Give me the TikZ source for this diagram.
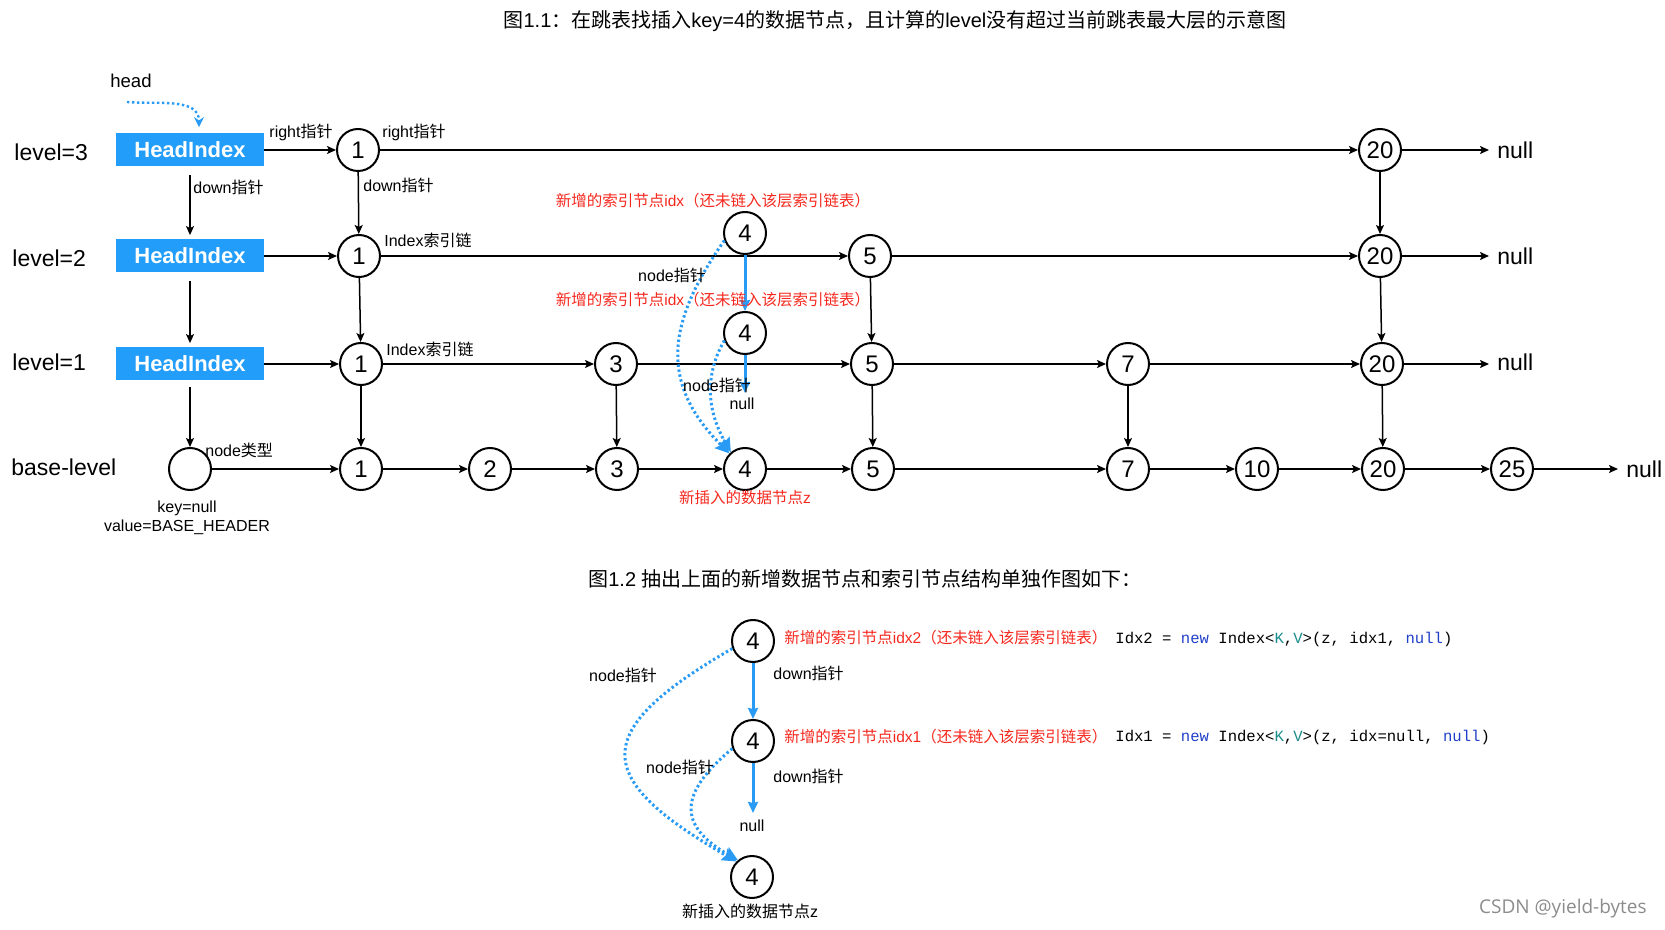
\documentclass[tikz,border=0pt]{standalone}
\usepackage{fontspec}
\setmainfont{Liberation Sans}
\setmonofont{Liberation Mono}
\newfontfamily\cjk{Noto Sans CJK SC}
\newfontfamily\wmfont{Open Sans}
\usetikzlibrary{arrows.meta}
\definecolor{hiblue}{HTML}{239DFA}
\definecolor{ptrblue}{HTML}{2A9BF5}
\definecolor{notered}{HTML}{F5281E}
\definecolor{kwblue}{HTML}{1F3FC8}
\definecolor{tvteal}{HTML}{1C8C8C}
\newcommand{\zh}[1]{{\cjk #1}}
\newcommand{\kw}[1]{\textcolor{kwblue}{#1}}
\newcommand{\tv}[1]{\textcolor{tvteal}{#1}}
\begin{document}
\begin{tikzpicture}[x=0.5pt, y=-0.5pt,
		idx/.style={circle, draw, line width=1pt, minimum size=21pt, inner sep=0pt, font=\fontsize{12}{14}\selectfont},
		hbox/.style={fill=hiblue, minimum width=74pt, minimum height=16.5pt, inner sep=0pt, text=white, font=\bfseries\fontsize{11}{13}\selectfont},
		lvl/.style={inner sep=1pt, font=\fontsize{11.5}{13}\selectfont},
		nul/.style={anchor=west, inner sep=4pt, font=\fontsize{11.5}{13}\selectfont},
		lbl/.style={inner sep=1pt, font=\fontsize{8}{10}\selectfont},
		redlbl/.style={inner sep=1pt, text=notered, font=\fontsize{7.75}{9}\selectfont},
		code/.style={inner sep=1pt, font=\ttfamily\fontsize{7.8}{9}\selectfont},
		ttl/.style={inner sep=1pt, font=\fontsize{10}{12}\selectfont},
		link/.style={-{Stealth[length=4.5pt, width=4pt, inset=1pt]}, line width=0.75pt},
		downb/.style={-{Stealth[length=5.5pt, width=5pt, inset=0.5pt]}, ptrblue, line width=1.5pt},
		ptr/.style={-{Stealth[length=7pt, width=6.5pt, inset=1pt]}, ptrblue, line width=1.5pt, dash pattern=on 1.2pt off 1.3pt}]
	\useasboundingbox (0,0) rectangle (1665,930);
	\pgfmathsetmacro{\rowc}{150}
	\pgfmathsetmacro{\rowb}{256}
	\pgfmathsetmacro{\rowa}{364}
	\pgfmathsetmacro{\rowz}{469}

	\node[ttl] (title1) at (895,21) {\zh{图}1.1\zh{：在跳表找插入}key=4\zh{的数据节点，且计算的}level\zh{没有超过当前跳表最大层的示意图}};

	% level names and head boxes
	\node[lvl, anchor=west] (lv3) at (12,\rowc+2) {level=3};
	\node[lvl, anchor=west] (lv2) at (10,\rowb+2) {level=2};
	\node[lvl, anchor=west] (lv1) at (10,\rowa-2) {level=1};
	\node[lvl, anchor=west] (lv0) at (9,\rowz-2) {base-level};
	\node[hbox] (h3) at (190,\rowc) {HeadIndex};
	\node[hbox] (h2) at (190,\rowb) {HeadIndex};
	\node[hbox] (h1) at (190,\rowa) {HeadIndex};
	\node[lbl, font=\fontsize{9.3}{11}\selectfont] (head) at (131,81) {head};
	\coordinate (hs) at (127,102);
	\draw[ptr, line width=1.2pt, -{Stealth[length=5pt, width=5pt]}] (hs) to[out=-5, in=90] ([xshift=4.5pt, yshift=3pt]h3.north);

	% level 3
	\node[idx] (t1) at (358,\rowc) {1};
	\node[idx] (t20) at (1380,\rowc) {20};
	\node[nul] (t0) at (1489,\rowc) {null};
	% level 2
	\node[idx] (m1) at (359,\rowb) {1};
	\node[idx] (m5) at (870,\rowb) {5};
	\node[idx] (m20) at (1380,\rowb) {20};
	\node[nul] (m0) at (1489,\rowb) {null};
	% level 1
	\node[idx] (l1) at (361,\rowa) {1};
	\node[idx] (l3) at (616,\rowa) {3};
	\node[idx] (l5) at (872,\rowa) {5};
	\node[idx] (l7) at (1128,\rowa) {7};
	\node[idx] (l20) at (1382,\rowa) {20};
	\node[nul] (l0) at (1489,\rowa-2) {null};
	% base level
	\node[idx] (b0) at (190,\rowz) {};
	\node[idx] (b1) at (361,\rowz) {1};
	\node[idx] (b2) at (490,\rowz) {2};
	\node[idx] (b3) at (617,\rowz) {3};
	\node[idx] (b4) at (745,\rowz) {4};
	\node[idx] (b5) at (873,\rowz) {5};
	\node[idx] (b7) at (1128,\rowz) {7};
	\node[idx] (b10) at (1257,\rowz) {10};
	\node[idx] (b20) at (1383,\rowz) {20};
	\node[idx] (b25) at (1512,\rowz) {25};
	\node[nul] (bn) at (1618,\rowz) {null};
	% new index nodes
	\node[idx] (w2) at (745,233) {4};
	\node[idx] (w1) at (745,333) {4};

	% right links
	\draw[link] (h3) -- (t1);
	\draw[link] (t1) -- (t20);
	\draw[link] (t20) -- (t0);
	\draw[link] (h2) -- (m1);
	\draw[link] (m1) -- (m5);
	\draw[link] (m5) -- (m20);
	\draw[link] (m20) -- (m0);
	\draw[link] (h1) -- (l1);
	\draw[link] (l1) -- (l3);
	\draw[link] (l3) -- (l5);
	\draw[link] (l5) -- (l7);
	\draw[link] (l7) -- (l20);
	\draw[link] (l20) -- (l0.west |- l20);
	\draw[link] (b0) -- (b1);
	\draw[link] (b1) -- (b2);
	\draw[link] (b2) -- (b3);
	\draw[link] (b3) -- (b4);
	\draw[link] (b4) -- (b5);
	\draw[link] (b5) -- (b7);
	\draw[link] (b7) -- (b10);
	\draw[link] (b10) -- (b20);
	\draw[link] (b20) -- (b25);
	\draw[link] (b25) -- (bn);
	% down links
	\draw[link, shorten <=4pt, shorten >=2pt] (h3) -- (h2);
	\draw[link, shorten <=4pt, shorten >=2pt] (h2) -- (h1);
	\draw[link, shorten <=3pt] (h1) -- (b0);
	\draw[link] (t1) -- (m1);
	\draw[link] (m1) -- (l1);
	\draw[link] (l1) -- (b1);
	\draw[link] (l3) -- (b3);
	\draw[link] (m5) -- (l5);
	\draw[link] (l5) -- (b5);
	\draw[link] (l7) -- (b7);
	\draw[link] (t20) -- (m20);
	\draw[link] (m20) -- (l20);
	\draw[link] (l20) -- (b20);

	% labels
	\node[lbl] (rp1) at (301,132) {right\zh{指针}};
	\node[lbl] (rp2) at (414,132) {right\zh{指针}};
	\node[lbl, anchor=west] (dp1) at (191,187) {down\zh{指针}};
	\node[lbl, anchor=west] (dp2) at (361,185) {down\zh{指针}};
	\node[lbl, anchor=west] (ic2) at (382,240) {Index\zh{索引链}};
	\node[lbl, anchor=west] (ic1) at (384,349) {Index\zh{索引链}};
	\node[lbl, anchor=west] (nt) at (203,450) {node\zh{类型}};
	\node[lbl] (kn) at (187,508) {key=null};
	\node[lbl] (vb) at (187,527) {value=BASE\_HEADER};

	% new nodes and pointers
	\draw[downb] (w2) -- (w1);
	\coordinate (w1e) at (745,393);
	\draw[downb] (w1) -- (w1e);
	\draw[ptr] (w2.200) to[out=235, in=135, looseness=1.2] (b4.135);
	\draw[ptr] (w1.200) to[out=240, in=120] (b4.130);
	\node[redlbl] (nw2) at (713,201) {\zh{新增的索引节点}idx\zh{（还未链入该层索引链表）}};
	\node[redlbl] (nw1) at (713,300) {\zh{新增的索引节点}idx\zh{（还未链入该层索引链表）}};
	\node[lbl] (np2) at (672,275) {node\zh{指针}};
	\node[lbl] (np1) at (717,385) {node\zh{指针}};
	\node[lbl] (nl1) at (742,404) {null};
	\node[redlbl] (nz) at (745,498) {\zh{新插入的数据节点}z};

	% figure 1.2
	\node[ttl] (title2) at (865,579) {\zh{图}1.2 \zh{抽出上面的新增数据节点和索引节点结构单独作图如下：}};
	\node[idx] (s2) at (753,641) {4};
	\node[idx] (s1) at (753,741) {4};
	\node[idx] (sz) at (752,877) {4};
	\coordinate (s1e) at (753,813);
	\draw[downb] (s2) -- (s1);
	\draw[downb] (s1) -- (s1e);
	\draw[ptr] (s2.200) to[out=210, in=150, looseness=2.0] (sz.135);
	\draw[ptr] (s1.200) to[out=220, in=150, looseness=1.6] (sz.130);
	\node[lbl] (sn) at (752,826) {null};
	\node[lbl, anchor=west] (sd2) at (771,673) {down\zh{指针}};
	\node[lbl, anchor=west] (sd1) at (771,776) {down\zh{指针}};
	\node[lbl] (sp2) at (623,675) {node\zh{指针}};
	\node[lbl] (sp1) at (680,767) {node\zh{指针}};
	\node[redlbl, anchor=west] (sr2) at (782,638) {\zh{新增的索引节点}idx2\zh{（还未链入该层索引链表）}};
	\node[redlbl, anchor=west] (sr1) at (782,737) {\zh{新增的索引节点}idx1\zh{（还未链入该层索引链表）}};
	\node[code, anchor=west] (sc2) at (1113,639) {Idx2 = \kw{new} Index<\tv{K},\tv{V}>(z, idx1, \kw{null})};
	\node[code, anchor=west] (sc1) at (1113,737) {Idx1 = \kw{new} Index<\tv{K},\tv{V}>(z, idx=null, \kw{null})};
	\node[lbl] (szl) at (750,911) {\zh{新插入的数据节点}z};

	\node[anchor=east, inner sep=1pt, text=black!45, font=\wmfont\fontsize{9.5}{11}\selectfont] (wm) at (1649,909) {CSDN @yield-bytes};
\end{tikzpicture}
\end{document}
